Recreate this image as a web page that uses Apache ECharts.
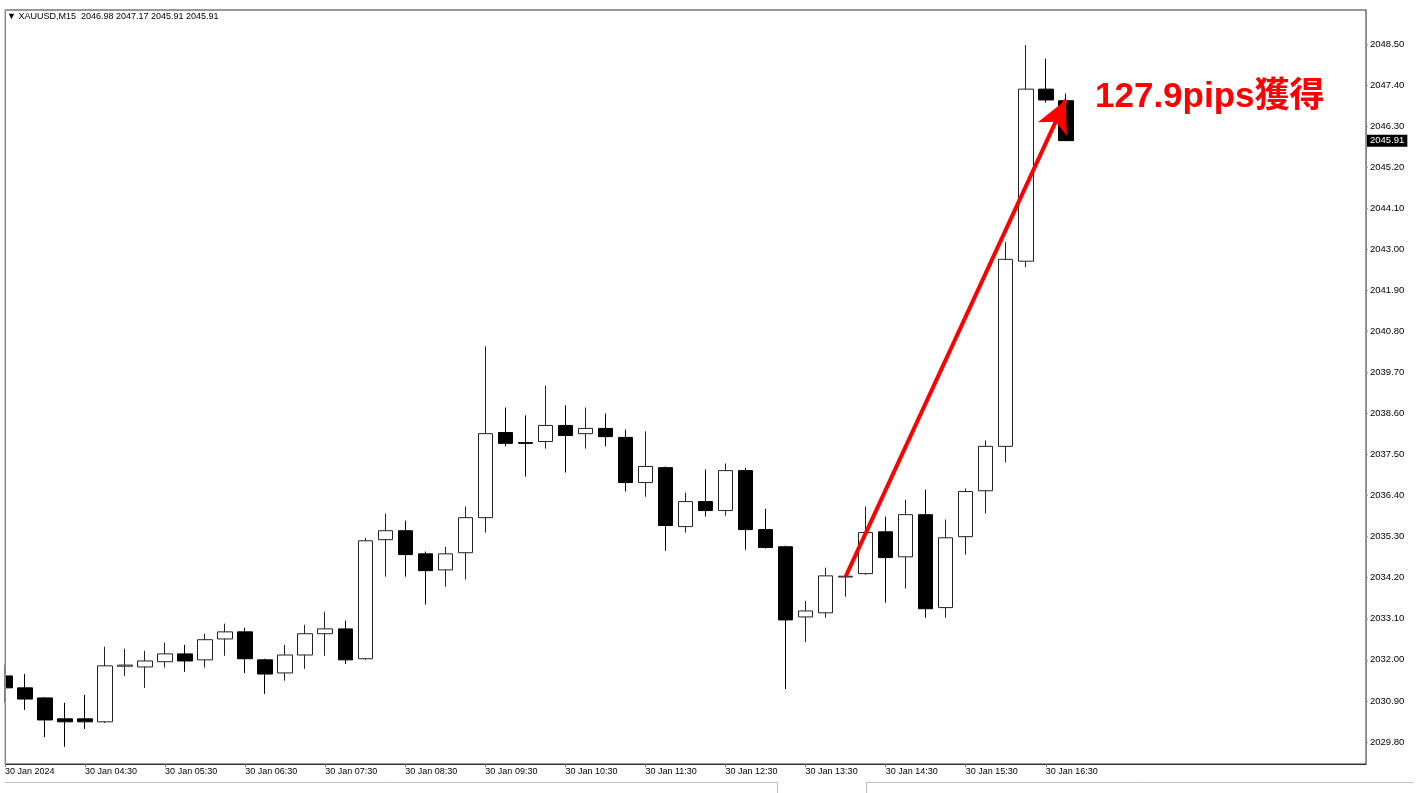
<!DOCTYPE html>
<html>
<head>
<meta charset="utf-8">
<script src="https://cdn.jsdelivr.net/npm/echarts@6/dist/echarts.min.js"></script>
<style>
html,body{margin:0;padding:0;background:#fff;}
#chart{width:1422px;height:793px;}
</style>
</head>
<body>
<div id="chart"></div>
<script>
// XAUUSD M15, 30 Jan 2024
const categories = [
  '03:30','03:45','04:00','04:15','04:30','04:45','05:00','05:15','05:30','05:45',
  '06:00','06:15','06:30','06:45','07:00','07:15','07:30','07:45','08:00','08:15',
  '08:30','08:45','09:00','09:15','09:30','09:45','10:00','10:15','10:30','10:45',
  '11:00','11:15','11:30','11:45','12:00','12:15','12:30','12:45','13:00','13:15',
  '13:30','13:45','14:00','14:15','14:30','14:45','15:00','15:15','15:30','15:45',
  '16:00','16:15','16:30','16:45',
  '17:00','17:15','17:30','17:45','18:00','18:15','18:30','18:45','19:00','19:15',
  '19:30','19:45','20:00','20:15','20:30'
];
const opens  = [2031.57,2031.25,2030.98,2030.42,2030.42,2030.34,2031.83,2031.81,2031.95,2032.16,
                2032.00,2032.56,2032.75,2032.00,2031.65,2032.13,2032.70,2032.83,2032.03,2035.22,
                2035.46,2034.84,2034.41,2034.87,2035.81,2038.09,2037.82,2037.85,2038.28,2038.06,
                2038.20,2037.96,2036.75,2037.15,2035.57,2036.24,2036.00,2037.07,2035.49,2035.03,
                2033.15,2033.26,2034.22,2034.31,2035.43,2034.76,2035.89,2033.40,2035.30,2036.53,
                2037.72,2042.68,2047.29,2046.98];
const closes = [2031.25,2030.95,2030.39,2030.34,2030.34,2031.84,2031.86,2031.97,2032.16,2031.97,
                2032.54,2032.75,2032.03,2031.62,2032.13,2032.70,2032.83,2032.00,2035.19,2035.46,
                2034.82,2034.39,2034.84,2035.81,2038.06,2037.80,2037.80,2038.28,2038.01,2038.20,
                2037.98,2036.75,2037.18,2035.60,2036.24,2036.00,2037.07,2035.49,2035.01,2033.07,
                2033.31,2034.25,2034.24,2035.41,2034.74,2035.89,2033.37,2035.27,2036.51,2037.72,
                2042.73,2047.29,2047.00,2045.91];
const lows   = [2030.85,2030.66,2029.93,2029.67,2030.15,2030.31,2031.57,2031.25,2031.79,2031.68,
                2031.79,2032.11,2031.65,2031.09,2031.44,2031.76,2032.11,2031.89,2032.00,2034.23,
                2034.23,2033.48,2033.96,2034.15,2035.41,2037.72,2036.91,2037.66,2037.02,2037.66,
                2037.72,2036.51,2036.37,2034.92,2035.41,2035.84,2035.86,2034.95,2034.98,2031.22,
                2032.48,2033.13,2033.69,2034.28,2033.53,2033.91,2033.13,2033.13,2034.82,2035.92,
                2037.29,2042.52,2046.93,2045.91];
const highs  = [2031.87,2031.62,2031.00,2030.85,2031.06,2032.35,2032.30,2032.24,2032.46,2032.40,
                2032.70,2032.97,2032.86,2032.03,2032.40,2032.94,2033.29,2033.05,2035.27,2035.92,
                2035.73,2034.90,2035.03,2036.11,2040.40,2038.76,2038.55,2039.35,2038.82,2038.76,
                2038.60,2038.17,2038.12,2037.18,2036.48,2037.10,2037.26,2037.15,2036.05,2035.06,
                2033.58,2034.47,2034.26,2036.11,2035.84,2036.29,2036.56,2035.76,2036.59,2037.88,
                2043.19,2048.47,2048.10,2047.17];
const yTicks = [2029.80,2030.90,2032.00,2033.10,2034.20,2035.30,2036.40,2037.50,2038.60,
                2039.70,2040.80,2041.90,2043.00,2044.10,2045.20,2046.30,2047.40,2048.50];
const xTickLabels = ['30 Jan 2024','30 Jan 04:30','30 Jan 05:30','30 Jan 06:30','30 Jan 07:30',
                     '30 Jan 08:30','30 Jan 09:30','30 Jan 10:30','30 Jan 11:30','30 Jan 12:30',
                     '30 Jan 13:30','30 Jan 14:30','30 Jan 15:30','30 Jan 16:30'];
const arrowFrom = ['14:00', 2034.23];
const arrowTo   = ['16:45', 2047.00];
const lastPrice = 2045.91;
const headerText = '\u25BC XAUUSD,M15  2046.98 2047.17 2045.91 2045.91';
const annotation = '127.9pips獲得';

const ohlc = opens.map((o, i) => [o, closes[i], lows[i], highs[i]]);
const tickFn = (idx) => idx <= 52 && idx % 4 === 0;
const FONT = 'Liberation Sans, Arial, sans-serif';

const chart = echarts.init(document.getElementById('chart'));
chart.setOption({
  animation: false,
  backgroundColor: '#fff',
  grid: { left: 5, right: 56, top: 10, bottom: 29, show: true, borderColor: '#333', borderWidth: 1, containLabel: false },
  xAxis: {
    type: 'category',
    data: categories,
    boundaryGap: false,
    axisLine: { lineStyle: { color: '#333', width: 1 } },
    axisTick: { show: true, interval: tickFn, length: 3, lineStyle: { color: '#777' } },
    axisLabel: {
      interval: tickFn,
      formatter: (v, idx) => xTickLabels[idx / 4] || '',
      align: 'left',
      fontSize: 9,
      fontFamily: FONT,
      color: '#000',
      margin: 3
    },
    splitLine: { show: false }
  },
  yAxis: {
    type: 'value',
    position: 'right',
    min: 2029.21,
    max: 2049.41,
    scale: true,
    axisLine: { show: true, lineStyle: { color: '#888', width: 1 } },
    axisTick: { show: true, customValues: yTicks, length: 2, lineStyle: { color: '#999' } },
    axisLabel: {
      customValues: yTicks,
      formatter: (v) => v.toFixed(2),
      fontSize: 9.5,
      fontFamily: FONT,
      color: '#000',
      margin: 4
    },
    splitLine: { show: false }
  },
  series: [{
    type: 'candlestick',
    data: ohlc,
    barWidth: 15,
    clip: true,
    z: 2,
    itemStyle: { color: '#ffffff', color0: '#000000', borderColor: '#222', borderColor0: '#000', borderWidth: 1 },
    markLine: {
      silent: true,
      animation: false,
      emphasis: { disabled: true },
      data: [
        [
          { coord: arrowFrom, symbol: 'none', label: { show: false } },
          { coord: arrowTo, symbol: 'arrow', symbolSize: [24, 32], label: { show: false } }
        ],
        {
          yAxis: lastPrice,
          symbol: 'none',
          lineStyle: { color: 'rgba(0,0,0,0)', width: 0 },
          label: {
            show: true, position: 'end', formatter: lastPrice.toFixed(2),
            backgroundColor: '#000', color: '#fff', fontSize: 9.5, fontFamily: FONT,
            padding: [1, 3, 1, 3], distance: 1
          }
        }
      ],
      lineStyle: { color: '#ff0000', width: 4, type: 'solid' }
    }
  }],
  graphic: [
    { type: 'rect', z: 100, shape: { x: 0, y: 0, width: 4.5, height: 793 }, style: { fill: '#fff' } },
    { type: 'line', z: 101, shape: { x1: 5.5, y1: 10, x2: 5.5, y2: 764 }, style: { stroke: '#888', lineWidth: 1 } },
    { type: 'text', left: 7, top: 12, style: { text: headerText, font: '9px ' + FONT, fill: '#000' } },
    { type: 'text', x: 1095, y: 97, style: { text: annotation, font: 'bold 35px "Liberation Sans", "Noto Sans CJK JP", sans-serif', fill: '#ff0000', align: 'left', verticalAlign: 'middle' } },
    { type: 'line', shape: { x1: 0, y1: 782.5, x2: 777, y2: 782.5 }, style: { stroke: '#bdbdbd', lineWidth: 1 } },
    { type: 'line', shape: { x1: 866, y1: 782.5, x2: 1413, y2: 782.5 }, style: { stroke: '#bdbdbd', lineWidth: 1 } },
    { type: 'line', shape: { x1: 777.5, y1: 782, x2: 777.5, y2: 793 }, style: { stroke: '#bdbdbd', lineWidth: 1 } },
    { type: 'line', shape: { x1: 866.5, y1: 782, x2: 866.5, y2: 793 }, style: { stroke: '#bdbdbd', lineWidth: 1 } }
  ]
});
</script>
</body>
</html>
